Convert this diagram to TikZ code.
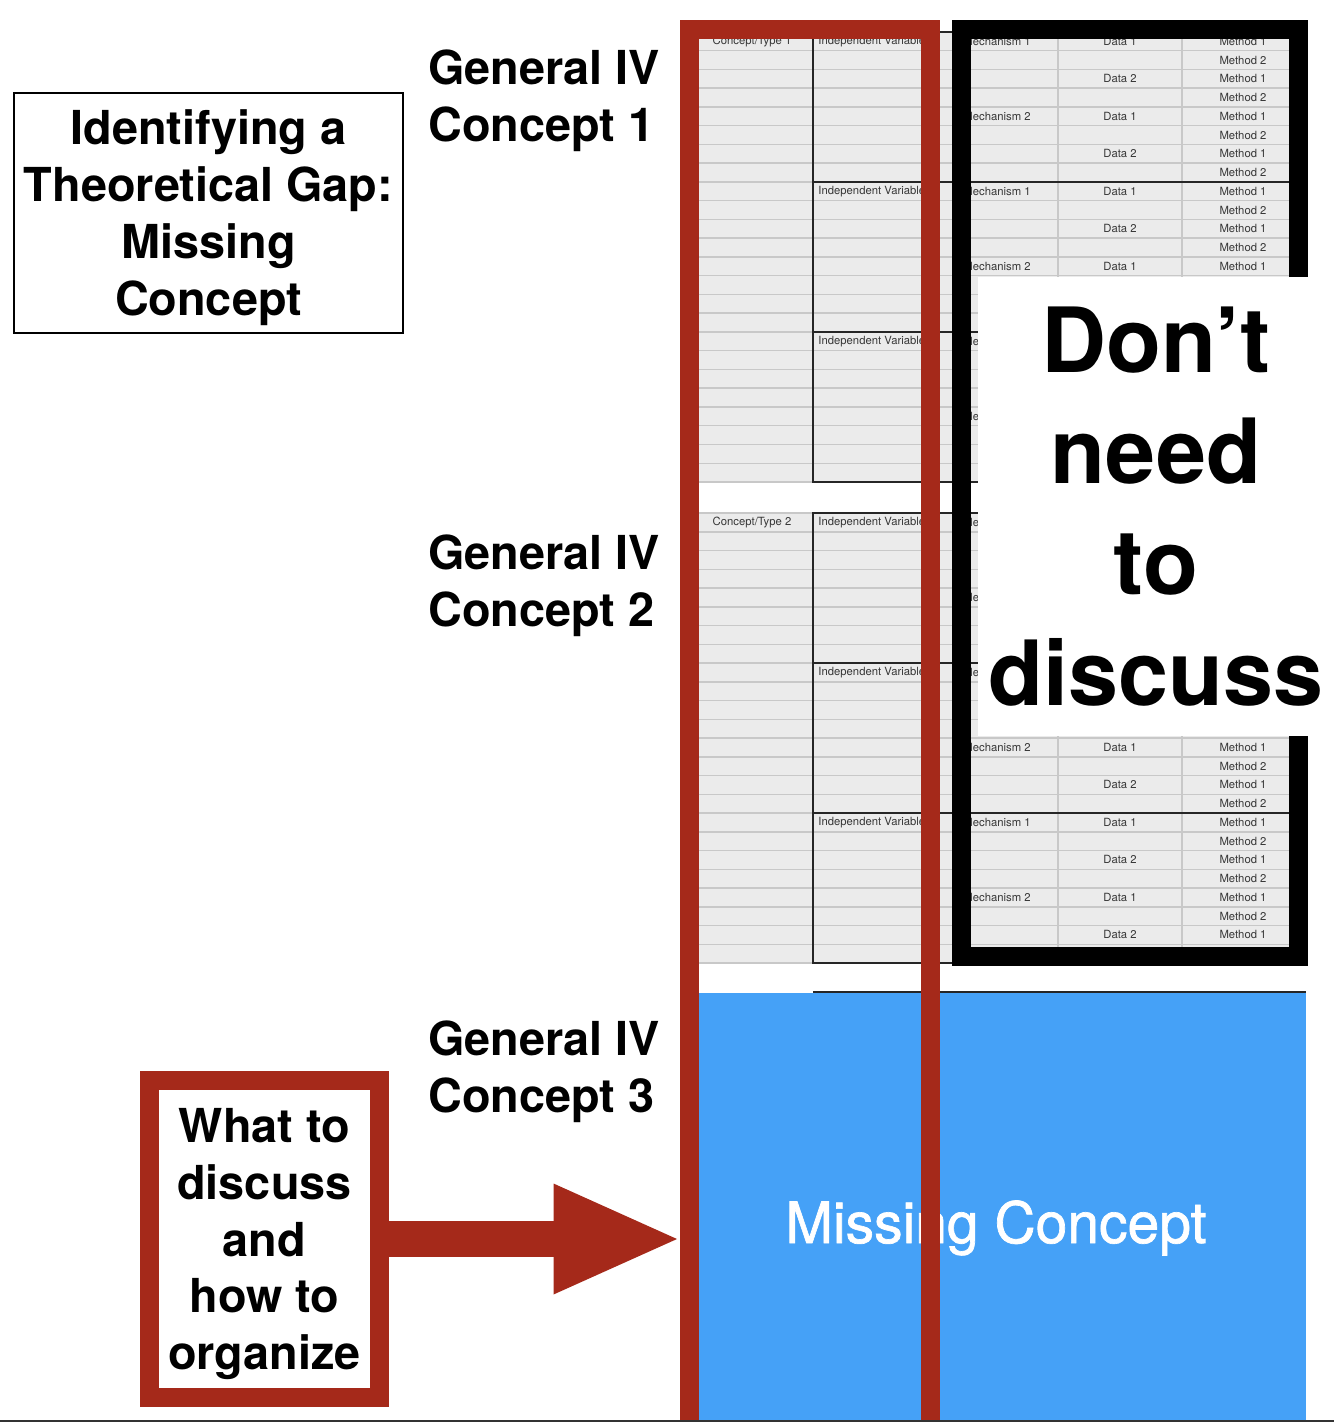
\documentclass[tikz,border=0pt]{standalone}
\usepackage{fontspec}
\setmainfont{TeX Gyre Heros}
\newfontfamily\mediumfont[FakeBold=1.2]{TeX Gyre Heros}
\usepackage{tikz}
\usetikzlibrary{arrows.meta}

\definecolor{gapred}{RGB}{165,41,26}
\definecolor{gapblue}{RGB}{69,161,247}
\definecolor{cellgray}{RGB}{235,235,235}
\definecolor{rulegray}{RGB}{200,200,200}
\definecolor{celltext}{RGB}{55,55,55}

\begin{document}
\begin{tikzpicture}[x=0.5pt,y=0.5pt,yscale=-1,xscale=1,
  bigtext/.style={font=\fontsize{23.4}{28.5}\selectfont\bfseries, inner sep=0pt},
  cell/.style={font=\fontsize{5.65}{6.5}\selectfont, text=celltext, inner sep=0pt},
  rowline/.style={draw=rulegray, line width=0.75pt},
  ivline/.style={draw=black!85, line width=0.75pt},
  thickframe/.style={line width=9.5pt}]
%set diagram left start at 0, and has height of 1422
\useasboundingbox (0,0) rectangle (1334,1422);

%Shape: Tables of concept 1 and 2
\foreach \ty/\tn in {32/1,513/2}{
  \fill[cellgray] (698,\ty) rectangle (1290,\ty+450);
  %Straight Lines: rows
  \foreach \r in {1,...,23}
    \draw[rowline] (698,\ty+\r*18.75) -- (1290,\ty+\r*18.75);
  \draw[rowline] (698,\ty) -- (813,\ty) (698,\ty+450) -- (813,\ty+450);
  \draw[rowline] (1058,\ty) -- (1058,\ty+450) (1182,\ty) -- (1182,\ty+450);
  %Straight Lines: independent variable blocks
  \draw[ivline] (1290,\ty) -- (813,\ty) -- (813,\ty+450) -- (1290,\ty+450);
  \draw[ivline] (813,\ty+150) -- (1290,\ty+150) (813,\ty+300) -- (1290,\ty+300);
  % Text Node
  \node[cell] (type\tn) at (752,\ty+9.4) {Concept/Type \tn};
  \foreach \g in {0,1,2}{
    \node[cell,anchor=west] (var\tn-\g) at (818,\ty+\g*150+9.4) {Independent Variable};
    \node[cell,anchor=west] (mechA\tn-\g) at (963,\ty+\g*150+9.4) {Mechanism 1};
    \node[cell,anchor=west] (mechB\tn-\g) at (963,\ty+\g*150+84.4) {Mechanism 2};
  }
  %cells hidden by the white panel are left out
  \foreach \r in {0,...,23}{
    \pgfmathsetmacro{\yc}{\ty+\r*18.75+9.4}
    \pgfmathtruncatemacro{\shown}{(\yc<277)||(\yc>736)}
    \pgfmathtruncatemacro{\mnum}{mod(\r,2)+1}
    \pgfmathtruncatemacro{\dnum}{mod(\r/2,2)+1}
    \pgfmathtruncatemacro{\isdata}{mod(\r,2)==0}
    \ifnum\shown=1
      \node[cell] (meth\tn-\r) at (1243,\yc) {Method \mnum};
      \ifnum\isdata=1
        \node[cell] (data\tn-\r) at (1120,\yc) {Data \dnum};
      \fi
    \fi
  }
}

%Shape: Missing concept block
\fill[gapblue] (698,993) rectangle (1306,1422);
\draw[ivline] (813,992) -- (1306,992);
% Text Node
\node[font=\fontsize{28.5}{34}\selectfont\mediumfont, text=white, anchor=base, inner sep=0pt] (missing) at (996,1243) {Missing Concept};

%Shape: Red frame
\draw[gapred, thickframe] (689.5,1422) -- (689.5,29.5) -- (930.5,29.5) -- (930.5,1422);
%Shape: Black frame
\draw[black, thickframe] (961,29.5) rectangle (1298,956.5);

% Text Node
\node[fill=white, minimum width=178pt, minimum height=229.5pt, inner sep=0pt, align=center, font=\fontsize{45}{55.5}\selectfont\bfseries] (nodiscuss) at (1156,506.5) {Don’t\\need\\to\\discuss};

% Text Node
\node[draw, line width=1pt, minimum width=194.5pt, minimum height=120pt, align=center, bigtext, text depth=-1pt] (title) at (208.5,213) {Identifying a\\Theoretical Gap:\\Missing\\Concept};

% Text Node
\node[bigtext, anchor=north west, align=left] (general1) at (428,49) {General IV\\Concept 1};
% Text Node
\node[bigtext, anchor=north west, align=left] (general2) at (428,534.5) {General IV\\Concept 2};
% Text Node
\node[bigtext, anchor=north west, align=left] (general3) at (428,1020) {General IV\\Concept 3};

% Text Node
\node[draw=gapred, thickframe, minimum width=115pt, minimum height=158.5pt, align=center, bigtext, font=\fontsize{23.4}{28.35}\selectfont\bfseries, text depth=-2pt] (whatto) at (264.5,1239) {What to\\discuss\\and\\how to\\organize};

%Straight Lines: arrow
\coordinate (arrowtip) at (677,1239);
\draw[gapred, line width=17.85pt, -{Triangle[length=61.75pt,width=55.5pt,line width=0pt]}] (whatto.east) -- (arrowtip);

%Straight Lines: bottom edge
\draw[black!80, line width=1pt] (0,1421) -- (1334,1421);

\end{tikzpicture}
\end{document}
